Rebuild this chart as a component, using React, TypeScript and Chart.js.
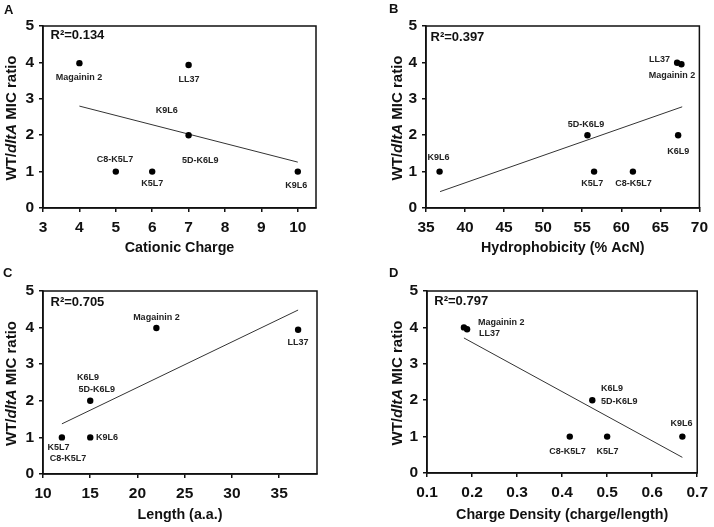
import React, { useEffect, useRef } from "react";
import { Chart, registerables } from "chart.js";

Chart.register(...registerables);

// ---------- Panel A: cationic charge ----------
const aCharge = [4, 7, 7, 5, 6, 10];
const aRatio = [3.98, 3.93, 2, 1, 1, 1];
const aTrendX = [4, 10];
const aTrendY = [2.8, 1.26];
const aXTicks = [3, 4, 5, 6, 7, 8, 9, 10];
const aLabelText = ["Magainin 2", "LL37", "K9L6", "C8-K5L7", "5D-K6L9", "K5L7", "K9L6"];
const aLabelX = [3.99, 7.01, 6.4, 4.98, 7.32, 6.0, 9.96];
const aLabelY = [3.59, 3.54, 2.67, 1.32, 1.3, 0.67, 0.61];

// ---------- Panel B: hydrophobicity ----------
const bHydro = [36.74, 55.67, 56.52, 61.49, 67.28, 67.15, 67.7];
const bRatio = [1, 2, 1, 1, 2, 3.99, 3.95];
const bTrendX = [36.8, 67.8];
const bTrendY = [0.45, 2.78];
const bXTicks = [35, 40, 45, 50, 55, 60, 65, 70];
const bLabelText = ["K9L6", "5D-K6L9", "K5L7", "C8-K5L7", "K6L9", "LL37", "Magainin 2"];
const bLabelX = [36.6, 55.5, 56.27, 61.58, 67.28, 64.9, 66.5];
const bLabelY = [1.38, 2.3, 0.66, 0.66, 1.56, 4.08, 3.65];

// ---------- Panel C: length ----------
const cLength = [12, 15, 15, 22, 37];
const cRatio = [1, 1, 2, 3.99, 3.94];
const cTrendX = [12, 37];
const cTrendY = [1.37, 4.48];
const cXTicks = [10, 15, 20, 25, 30, 35];
const cLabelText = ["Magainin 2", "LL37", "K6L9", "5D-K6L9", "K9L6", "K5L7", "C8-K5L7"];
const cLabelX = [22, 37, 14.77, 15.69, 16.78, 11.63, 12.65];
const cLabelY = [4.27, 3.59, 2.63, 2.3, 1.0, 0.71, 0.42];

// ---------- Panel D: charge density ----------
const dDensity = [0.182, 0.189, 0.467, 0.417, 0.5, 0.667];
const dRatio = [4.0, 3.95, 2, 1, 1, 1];
const dTrendX = [0.182, 0.667];
const dTrendY = [3.71, 0.43];
const dXTicks = [0.1, 0.2, 0.3, 0.4, 0.5, 0.6, 0.7];
const dLabelText = ["Magainin 2", "LL37", "K6L9", "5D-K6L9", "K9L6", "C8-K5L7", "K5L7"];
const dLabelX = [0.265, 0.239, 0.511, 0.527, 0.665, 0.412, 0.501];
const dLabelY = [4.14, 3.82, 2.32, 1.97, 1.37, 0.58, 0.6];

const yTicks = [0, 1, 2, 3, 4, 5];

const FONT = "'Liberation Sans', Arial, Helvetica, sans-serif";
const TICK_FONT = "'Liberation Sans', Arial, sans-serif";

type Panel = {
  letter: string;
  r2: string;
  xTitle: string;
  xs: number[];
  ys: number[];
  tx: number[];
  ty: number[];
  xTicks: number[];
  xMin: number;
  xMax: number;
  decimals: number;
  labels: string[];
  lx: number[];
  ly: number[];
  pos: { left: number; top: number; w: number; h: number };
  area: { left: number; top: number; right: number; bottom: number };
  r2Off: { dx: number; dy: number };
  letterPos: { x: number; y: number };
  yTitleOff: number;
  xTitleGap: number;
};

const panels: Panel[] = [
  {
    letter: "A", r2: "R\u00B2=0.134", xTitle: "Cationic Charge",
    xs: aCharge, ys: aRatio, tx: aTrendX, ty: aTrendY, xTicks: aXTicks, xMin: 3, xMax: 10.5, decimals: 0,
    labels: aLabelText, lx: aLabelX, ly: aLabelY,
    pos: { left: 0, top: 0, w: 357, h: 264 },
    area: { left: 43, top: 26, right: 316, bottom: 208 },
    r2Off: { dx: 7.5, dy: 9 }, letterPos: { x: 4, y: 10 }, yTitleOff: 31, xTitleGap: 40,
  },
  {
    letter: "B", r2: "R\u00B2=0.397", xTitle: "Hydrophobicity (% AcN)",
    xs: bHydro, ys: bRatio, tx: bTrendX, ty: bTrendY, xTicks: bXTicks, xMin: 35, xMax: 70, decimals: 0,
    labels: bLabelText, lx: bLabelX, ly: bLabelY,
    pos: { left: 357, top: 0, w: 357, h: 264 },
    area: { left: 69, top: 26, right: 343, bottom: 208 },
    r2Off: { dx: 4.5, dy: 11 }, letterPos: { x: 32, y: 9 }, yTitleOff: 28.5, xTitleGap: 40,
  },
  {
    letter: "C", r2: "R\u00B2=0.705", xTitle: "Length (a.a.)",
    xs: cLength, ys: cRatio, tx: cTrendX, ty: cTrendY, xTicks: cXTicks, xMin: 10, xMax: 39, decimals: 0,
    labels: cLabelText, lx: cLabelX, ly: cLabelY,
    pos: { left: 0, top: 264, w: 357, h: 263 },
    area: { left: 43, top: 27, right: 317, bottom: 210 },
    r2Off: { dx: 7.5, dy: 11 }, letterPos: { x: 3, y: 9 }, yTitleOff: 31, xTitleGap: 40.7,
  },
  {
    letter: "D", r2: "R\u00B2=0.797", xTitle: "Charge Density (charge/length)",
    xs: dDensity, ys: dRatio, tx: dTrendX, ty: dTrendY, xTicks: dXTicks, xMin: 0.1, xMax: 0.7, decimals: 1,
    labels: dLabelText, lx: dLabelX, ly: dLabelY,
    pos: { left: 357, top: 264, w: 357, h: 263 },
    area: { left: 70, top: 27, right: 344, bottom: 209 },
    r2Off: { dx: 7.3, dy: 10.7 }, letterPos: { x: 32, y: 9 }, yTitleOff: 29.5, xTitleGap: 42.5,
  },
];

const X_TITLE_SIZE = 14.3;

function makeChart(canvas: HTMLCanvasElement, p: Panel) {
  const overlay = {
    id: "overlay" + p.letter,
    afterDraw(chart: any) {
      const ctx = chart.ctx as CanvasRenderingContext2D;
      const ca = chart.chartArea;
      const xs = chart.scales.x;
      const ys = chart.scales.y;
      ctx.save();
      // frame
      ctx.strokeStyle = "#111";
      ctx.lineWidth = 1.5;
      ctx.strokeRect(ca.left, ca.top, ca.right - ca.left, ca.bottom - ca.top);
      // point labels
      ctx.fillStyle = "#222";
      ctx.font = `bold 9px ${FONT}`;
      ctx.textAlign = "center";
      ctx.textBaseline = "middle";
      p.labels.forEach((t, i) => {
        ctx.fillText(t, xs.getPixelForValue(p.lx[i]), ys.getPixelForValue(p.ly[i]));
      });
      // R2
      ctx.fillStyle = "#111";
      ctx.font = `bold 13px ${FONT}`;
      ctx.textAlign = "left";
      ctx.fillText(p.r2, ca.left + p.r2Off.dx, ca.top + p.r2Off.dy);
      // panel letter
      ctx.font = `bold 13px ${FONT}`;
      ctx.fillText(p.letter, p.letterPos.x, p.letterPos.y);
      // y title with italic gene name
      const parts: [string, string][] = [
        ["WT/", `bold 15px ${FONT}`],
        ["dltA", `italic bold 15px ${FONT}`],
        [" MIC ratio", `bold 15px ${FONT}`],
      ];
      let total = 0;
      const widths = parts.map(([t, f]) => {
        ctx.font = f;
        const w = ctx.measureText(t).width;
        total += w;
        return w;
      });
      ctx.translate(ca.left - p.yTitleOff, (ca.top + ca.bottom) / 2 + 1);
      ctx.rotate(-Math.PI / 2);
      let cx = -total / 2;
      parts.forEach(([t, f], i) => {
        ctx.font = f;
        ctx.fillText(t, cx, 0);
        cx += widths[i];
      });
      ctx.restore();
    },
  };

  const tickFont = { family: TICK_FONT, size: 15.5, weight: "bold" as const };
  const gridCfg = { display: true, drawOnChartArea: false, drawTicks: true, tickLength: 4, tickColor: "#111", lineWidth: 1.5 };

  return new Chart(canvas, {
    type: "scatter",
    data: {
      datasets: [
        {
          data: p.tx.map((x, i) => ({ x, y: p.ty[i] })),
          showLine: true,
          borderColor: "#333",
          borderWidth: 1,
          pointRadius: 0,
          order: 2,
        },
        {
          data: p.xs.map((x, i) => ({ x, y: p.ys[i] })),
          pointRadius: 3.2,
          pointBackgroundColor: "#000",
          pointBorderColor: "#000",
          pointBorderWidth: 0,
          order: 1,
        },
      ],
    },
    options: {
      responsive: false,
      animation: false,
      devicePixelRatio: 1,
      layout: { padding: { top: p.area.top, right: p.pos.w - p.area.right, left: 0, bottom: 0 } },
      plugins: { legend: { display: false }, tooltip: { enabled: false } },
      scales: {
        x: {
          type: "linear",
          min: p.xMin,
          max: p.xMax,
          afterBuildTicks: (s: any) => {
            s.ticks = p.xTicks.map((v) => ({ value: v }));
          },
          afterFit: (s: any) => {
            s.height = p.pos.h - p.area.bottom;
          },
          ticks: {
            font: tickFont,
            color: "#111",
            padding: 6,
            maxRotation: 0,
            autoSkip: false,
            callback: (v: any) => Number(v).toFixed(p.decimals),
          },
          grid: gridCfg,
          border: { display: true, color: "#111", width: 1.5 },
          title: {
            display: true,
            text: p.xTitle,
            color: "#111",
            font: { family: FONT, size: X_TITLE_SIZE, weight: "bold" },
            padding: { top: 0, bottom: p.pos.h - p.area.bottom - p.xTitleGap - (X_TITLE_SIZE * 1.2) / 2 },
          },
        },
        y: {
          type: "linear",
          min: 0,
          max: 5,
          afterBuildTicks: (s: any) => {
            s.ticks = yTicks.map((v) => ({ value: v }));
          },
          afterFit: (s: any) => {
            s.width = p.area.left;
          },
          ticks: { font: tickFont, color: "#111", padding: 5, callback: (v: any) => String(v) },
          grid: gridCfg,
          border: { display: true, color: "#111", width: 1.5 },
        },
      },
    },
    plugins: [overlay],
  } as any);
}

function PanelChart({ p }: { p: Panel }) {
  const ref = useRef<HTMLCanvasElement | null>(null);
  useEffect(() => {
    if (!ref.current) return;
    const chart = makeChart(ref.current, p);
    return () => chart.destroy();
  }, [p]);
  return (
    <canvas
      ref={ref}
      width={p.pos.w}
      height={p.pos.h}
      style={{ position: "absolute", left: p.pos.left, top: p.pos.top, width: p.pos.w, height: p.pos.h }}
    />
  );
}

export default function App() {
  return (
    <div style={{ position: "fixed", left: 0, top: 0, width: 714, height: 527, background: "#fff" }}>
      {panels.map((p) => (
        <PanelChart key={p.letter} p={p} />
      ))}
    </div>
  );
}
